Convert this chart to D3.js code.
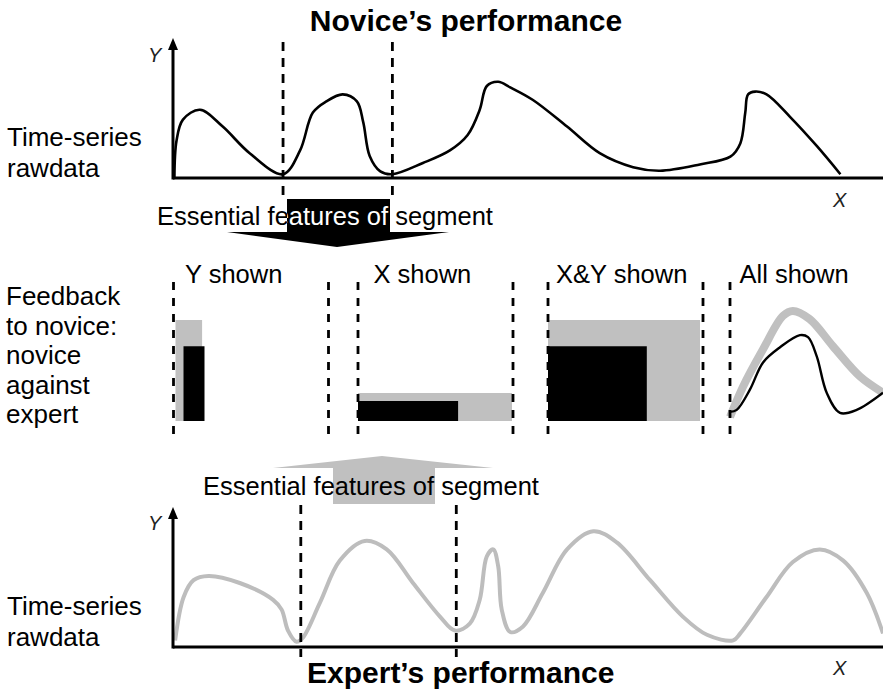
<!DOCTYPE html>
<html>
<head>
<meta charset="utf-8">
<script src="https://cdn.jsdelivr.net/npm/d3@7"></script>
<style>
  body { margin: 0; background: #fff; }
  text { font-family: "Liberation Sans", Arial, sans-serif; }
</style>
</head>
<body>
<div id="chart"></div>
<script>
// novice raw time series (time 0-100, value 0-10)
var noviceT = [0.2, 0.5, 1.4, 3.8, 7.0, 10.8, 15.5, 17.9, 19.7, 21.6, 23.9, 25.9, 26.8, 27.7, 29.2, 30.9,
  35.2, 39.0, 41.5, 43.2, 44.2, 45.8, 47.5, 50.7, 55.5, 60.1, 64.8, 68.6, 74.2, 78.5, 79.9, 80.6, 81.0,
  82.0, 83.6, 86.9, 90.7, 94.0]
var noviceV = [0.0, 2.6, 4.1, 4.8, 3.6, 1.7, 0.2, 1.9, 4.6, 5.4, 5.9, 5.4, 3.9, 1.5, 0.4, 0.2,
  1.0, 1.9, 3.0, 4.8, 6.5, 6.8, 6.4, 5.5, 3.6, 1.7, 0.7, 0.45, 0.9, 1.45, 2.4, 4.6, 5.9,
  6.1, 5.9, 4.3, 2.2, 0.2]

// expert raw time series
var expertT = [0.3, 1.5, 2.9, 5.0, 9.4, 14.1, 15.3, 16.2, 17.4, 18.3, 20.7, 23.5, 27.0, 30.1, 33.8, 37.6,
  39.7, 41.8, 43.2, 44.2, 45.1, 45.8, 46.3, 47.5, 49.3, 52.1, 55.5, 59.2, 62.5, 67.2, 71.8, 75.2, 78.9,
  79.9, 83.6, 87.3, 91.1, 94.4, 97.7, 100]
var expertV = [0.4, 3.5, 4.7, 5.0, 4.5, 3.3, 2.6, 1.1, 0.3, 0.6, 3.1, 6.1, 7.5, 6.9, 4.5, 2.1,
  1.1, 1.6, 3.3, 6.4, 6.9, 5.7, 2.6, 1.0, 1.4, 3.8, 6.9, 8.2, 7.4, 4.7, 2.1, 0.8, 0.4,
  0.9, 3.5, 6.0, 6.9, 6.1, 3.8, 0.9]

// segment boundaries (time)
var noviceSegment = [15.5, 30.9]
var expertSegment = [18.0, 39.9]

// feedback panels
var panelNames = ["Y shown", "X shown", "X&Y shown", "All shown"]
// essential features: [x (length), y (height)], expert normalised to 1
var expertFeatures = [1.0, 1.0]
var noviceFeatures = [0.65, 0.74]

// "All shown" overlay (segment time 0-1, value 0-1)
var overlayExpertT = [0, 0.085, 0.216, 0.346, 0.41, 0.52, 0.673, 0.85, 1.0]
var overlayExpertV = [0.04, 0.34, 0.71, 1.04, 1.09, 1.01, 0.74, 0.44, 0.28]
var overlayNoviceT = [0, 0.044, 0.13, 0.216, 0.327, 0.457, 0.51, 0.567, 0.632, 0.719, 0.828, 1.0]
var overlayNoviceV = [0.09, 0.11, 0.31, 0.58, 0.73, 0.85, 0.83, 0.64, 0.28, 0.08, 0.11, 0.28]

var leftLabel = ["Feedback", "to novice:", "novice", "against", "expert"]

// layout
const width = 883
const height = 691
const grey = "#c0c0c0"

const svg = d3.select('#chart').append('svg')
  .attr('width', width)
  .attr('height', height)

svg.append('rect').attr('width', width).attr('height', height).attr('fill', '#fff')

const x = d3.scaleLinear().domain([0, 100]).range([173, 883])
const yNov = d3.scaleLinear().domain([0, 10]).range([177, 37])
const yExp = d3.scaleLinear().domain([0, 10]).range([646, 506])

const zip = (a, b) => a.map((d, i) => [d, b[i]])

function drawAxes(y, yLabelBase, xLabelBase) {
  const y0 = y(0)
  svg.append('line')
    .attr('x1', x(0)).attr('x2', width)
    .attr('y1', y0 + 1).attr('y2', y0 + 1)
    .attr('stroke', '#000').attr('stroke-width', 3)
  svg.append('line')
    .attr('x1', x(0)).attr('x2', x(0))
    .attr('y1', y0 + 2.5).attr('y2', y(10) + 10)
    .attr('stroke', '#000').attr('stroke-width', 3)
  svg.append('path')
    .attr('d', `M${x(0) - 5} ${y(10) + 13} L${x(0)} ${y(10) + 1} L${x(0) + 5} ${y(10) + 13} Z`)
    .attr('fill', '#000')
  svg.append('text').attr('x', 148).attr('y', yLabelBase)
    .attr('font-size', 20).attr('font-style', 'italic').attr('fill', '#222').text('Y')
  svg.append('text').attr('x', 833).attr('y', xLabelBase)
    .attr('font-size', 20).attr('font-style', 'italic').attr('fill', '#222').text('X')
}

function dashed(xp, y1, y2, dash) {
  svg.append('line')
    .attr('x1', xp).attr('x2', xp).attr('y1', y1).attr('y2', y2)
    .attr('stroke', '#000').attr('stroke-width', 2.8)
    .attr('stroke-dasharray', dash)
}

function label(lines, x0, base, step, size) {
  lines.forEach((t, i) => {
    svg.append('text').attr('x', x0).attr('y', base + i * step)
      .attr('font-size', size).attr('fill', '#000').text(t)
  })
}

// ---------- novice panel ----------
svg.append('text').attr('x', 466).attr('y', 31).attr('text-anchor', 'middle')
  .attr('font-size', 30).attr('font-weight', 'bold').text('Novice\u2019s performance')

svg.append('path')
  .datum(zip(noviceT, noviceV))
  .attr('d', d3.line().x(d => x(d[0])).y(d => yNov(d[1])).curve(d3.curveCatmullRom.alpha(0.5)))
  .attr('fill', 'none').attr('stroke', '#000').attr('stroke-width', 2.6)

drawAxes(yNov, 62, 207)
noviceSegment.forEach(t => dashed(x(t), 42, 198, '9,7'))
label(["Time-series", "rawdata"], 7, 146, 31, 26)

// black arrow down
var boxL = 287, boxR = 390, boxT = 199, boxB = 232
svg.append('rect').attr('x', boxL).attr('y', boxT).attr('width', boxR - boxL).attr('height', boxB - boxT).attr('fill', '#000')
svg.append('path').attr('d', `M227 ${boxB} L449 ${boxB} L337 247 Z`).attr('fill', '#000')

svg.append('clipPath').attr('id', 'boxclip')
  .append('rect').attr('x', boxL).attr('y', boxT).attr('width', boxR - boxL).attr('height', boxB - boxT)

svg.append('text').attr('x', 157).attr('y', 225).attr('font-size', 25.5).attr('fill', '#000')
  .text('Essential features of segment')
svg.append('text').attr('x', 157).attr('y', 225).attr('font-size', 25.5).attr('fill', '#fff')
  .attr('clip-path', 'url(#boxclip)')
  .text('Essential features of segment')

// ---------- feedback panels ----------
label(leftLabel, 6, 305, 29.5, 26)

var panelLeft = [173.5, 358, 548, 730]
var panelRight = [328.5, 513, 703, null]
var panelW = 154
var fy = d3.scaleLinear().domain([0, 1]).range([421, 320])

panelNames.forEach((n, i) => {
  svg.append('text').attr('x', panelLeft[i] + [11.5, 15.5, 8, 9.5][i]).attr('y', 283)
    .attr('font-size', 25.5).text(n)
})

// Y shown
svg.append('rect').attr('x', panelLeft[0] + 2).attr('width', 26.6)
  .attr('y', fy(expertFeatures[1])).attr('height', fy(0) - fy(expertFeatures[1])).attr('fill', grey)
svg.append('rect').attr('x', panelLeft[0] + 10).attr('width', 21)
  .attr('y', fy(noviceFeatures[1])).attr('height', fy(0) - fy(noviceFeatures[1])).attr('fill', '#000')

// X shown
var fx1 = d3.scaleLinear().domain([0, 1]).range([panelLeft[1], panelLeft[1] + panelW])
svg.append('rect').attr('x', fx1(0)).attr('width', fx1(expertFeatures[0]) - fx1(0))
  .attr('y', fy(0) - 28).attr('height', 28).attr('fill', grey)
svg.append('rect').attr('x', fx1(0)).attr('width', fx1(noviceFeatures[0]) - fx1(0))
  .attr('y', fy(0) - 20).attr('height', 20).attr('fill', '#000')

// X&Y shown
var fx2 = d3.scaleLinear().domain([0, 1]).range([panelLeft[2], panelLeft[2] + 152])
svg.append('rect').attr('x', fx2(0)).attr('width', fx2(expertFeatures[0]) - fx2(0))
  .attr('y', fy(expertFeatures[1])).attr('height', fy(0) - fy(expertFeatures[1])).attr('fill', grey)
svg.append('rect').attr('x', fx2(0)).attr('width', fx2(noviceFeatures[0]) - fx2(0))
  .attr('y', fy(noviceFeatures[1])).attr('height', fy(0) - fy(noviceFeatures[1])).attr('fill', '#000')

// All shown
var fx3 = d3.scaleLinear().domain([0, 1]).range([panelLeft[3], width])
var overlayLine = d3.line().x(d => fx3(d[0])).y(d => fy(d[1])).curve(d3.curveCatmullRom.alpha(0.5))
svg.append('path').datum(zip(overlayExpertT, overlayExpertV)).attr('d', overlayLine)
  .attr('fill', 'none').attr('stroke', grey).attr('stroke-width', 8)
svg.append('path').datum(zip(overlayNoviceT, overlayNoviceV)).attr('d', overlayLine)
  .attr('fill', 'none').attr('stroke', '#000').attr('stroke-width', 2.4)

panelLeft.concat(panelRight).filter(d => d != null).forEach(p => dashed(p, 282, 442, '8,8'))

// ---------- expert panel ----------
// grey arrow up
svg.append('path').attr('d', 'M273 468 L493 468 L382 456 Z').attr('fill', grey)
svg.append('rect').attr('x', 333).attr('y', 468).attr('width', 102).attr('height', 36).attr('fill', grey)

svg.append('text').attr('x', 203).attr('y', 495).attr('font-size', 25.5).attr('fill', '#000')
  .text('Essential features of segment')

svg.append('path')
  .datum(zip(expertT, expertV))
  .attr('d', d3.line().x(d => x(d[0])).y(d => yExp(d[1])).curve(d3.curveCatmullRom.alpha(0.5)))
  .attr('fill', 'none').attr('stroke', '#bdbdbd').attr('stroke-width', 4)

drawAxes(yExp, 530, 675)
expertSegment.forEach(t => dashed(x(t), 505, 657, '9,7'))
label(["Time-series", "rawdata"], 7, 615, 31, 26)

svg.append('text').attr('x', 307).attr('y', 683)
  .attr('font-size', 30).attr('font-weight', 'bold').text('Expert\u2019s performance')
</script>
</body>
</html>
